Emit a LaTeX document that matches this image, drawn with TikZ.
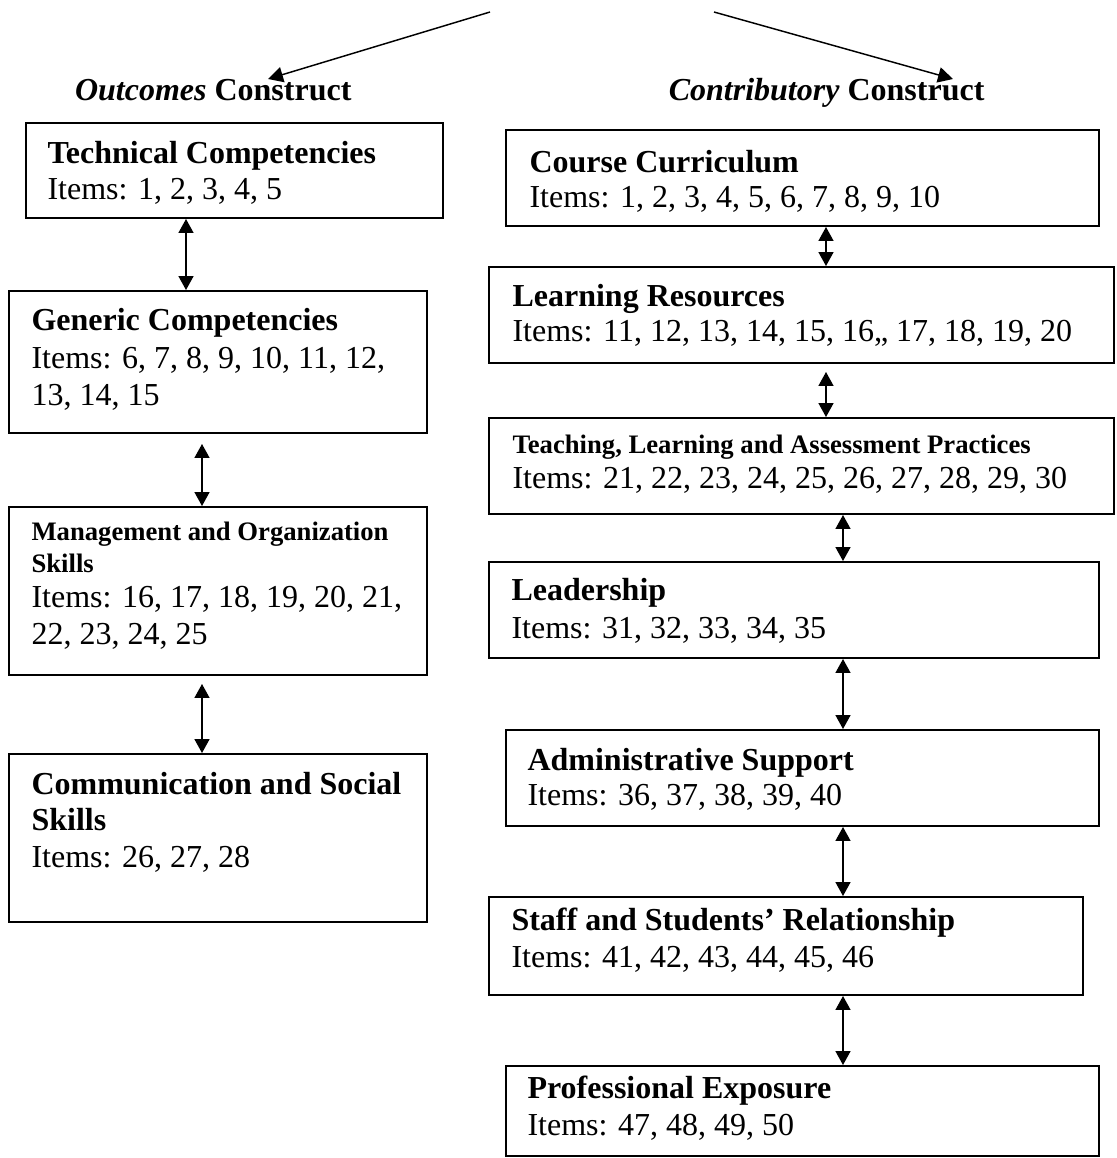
\documentclass[tikz,border=0pt]{standalone}
\usepackage{fontspec}
\setmainfont{Liberation Serif}
\usetikzlibrary{arrows.meta,fit}

\begin{document}
\begin{tikzpicture}[x=0.375pt, y=-0.375pt,
  box/.style={draw, line width=0.75pt, inner sep=0pt, rectangle},
  ln/.style={anchor=base west, inner sep=0pt},
  itm/.style={ln, font=\fontsize{12}{14}\selectfont},
  hd/.style={ln, font=\fontsize{12}{14}\selectfont\bfseries},
  hds/.style={ln, font=\fontsize{10}{12}\selectfont\bfseries},
  ttl/.style={inner sep=0pt, font=\fontsize{12}{14}\selectfont\bfseries},
  link/.style={{Triangle[length=5.2pt, width=5.6pt]}-{Triangle[length=5.2pt, width=5.6pt]}, line width=0.5pt},
  split/.style={-{Triangle[length=5.6pt, width=5.8pt]}, line width=0.55pt}]

\useasboundingbox (0,0) rectangle (1116,1158);

% ---- headings and the two branching arrows ----
\node[ttl, anchor=base east] (outc) at (352,100) {\textit{Outcomes} Construct};
\node[ttl, anchor=base east] (contr) at (985,100) {\textit{Contributory} Construct};
\coordinate (splitL) at (490,12);
\coordinate (tipL) at (268,79);
\coordinate (splitR) at (714,12);
\coordinate (tipR) at (953,79);
\draw[split] (splitL) -- (tipL);
\draw[split] (splitR) -- (tipR);

% ---- Outcomes construct: boxes ----
\node[box, fit={(26,123) (443,218)}] (tc) {};
\node[box, fit={(9,291) (427,433)}] (gc) {};
\node[box, fit={(9,507) (427,675)}] (mo) {};
\node[box, fit={(9,754) (427,922)}] (cs) {};

\node[hd]  (tc-h) at (47,163) {Technical Competencies};
\node[itm] (tc-i) at (47,199) {Items: 1, 2, 3, 4, 5};

\node[hd]  (gc-h)  at (31,330) {Generic Competencies};
\node[itm] (gc-i1) at (31,368) {Items: 6, 7, 8, 9, 10, 11, 12,};
\node[itm] (gc-i2) at (31,405) {13, 14, 15};

\node[hds] (mo-h1) at (31,540) {Management and Organization};
\node[hds] (mo-h2) at (31,572) {Skills};
\node[itm] (mo-i1) at (31,607) {Items: 16, 17, 18, 19, 20, 21,};
\node[itm] (mo-i2) at (31,644) {22, 23, 24, 25};

\node[hd]  (cs-h1) at (31,794) {Communication and Social};
\node[hd]  (cs-h2) at (31,830) {Skills};
\node[itm] (cs-i)  at (31,867) {Items: 26, 27, 28};

% ---- Contributory construct: boxes ----
\node[box, fit={(506,130) (1099,226)}] (cc) {};
\node[box, fit={(489,267) (1114,363)}] (lr) {};
\node[box, fit={(489,418) (1114,514)}] (tl) {};
\node[box, fit={(489,562) (1099,658)}] (ld) {};
\node[box, fit={(506,730) (1099,826)}] (as) {};
\node[box, fit={(489,897) (1083,995)}] (ss) {};
\node[box, fit={(506,1066) (1099,1156)}] (pe) {};

\node[hd]  (cc-h) at (529,172) {Course Curriculum};
\node[itm] (cc-i) at (529,207) {Items: 1, 2, 3, 4, 5, 6, 7, 8, 9, 10};

\node[hd]  (lr-h) at (512,306) {Learning Resources};
\node[itm] (lr-i) at (512,341) {Items: 11, 12, 13, 14, 15, 16,, 17, 18, 19, 20};

\node[hds] (tl-h) at (512,453) {Teaching, Learning and Assessment Practices};
\node[itm] (tl-i) at (512,488) {Items: 21, 22, 23, 24, 25, 26, 27, 28, 29, 30};

\node[hd]  (ld-h) at (511,600) {Leadership};
\node[itm] (ld-i) at (511,638) {Items: 31, 32, 33, 34, 35};

\node[hd]  (as-h) at (527,770) {Administrative Support};
\node[itm] (as-i) at (527,805) {Items: 36, 37, 38, 39, 40};

\node[hd]  (ss-h) at (511,930) {Staff and Students’ Relationship};
\node[itm] (ss-i) at (511,967) {Items: 41, 42, 43, 44, 45, 46};

\node[hd]  (pe-h) at (527,1098) {Professional Exposure};
\node[itm] (pe-i) at (527,1135) {Items: 47, 48, 49, 50};

% ---- two-way links ----
\coordinate (xa) at (186,0);
\coordinate (xb) at (202,0);
\coordinate (xc) at (826,0);
\coordinate (xd) at (843,0);

\draw[link] (tc.south -| xa) -- (gc.north -| xa);
\draw[link, shorten <=3.75pt] (gc.south -| xb) -- (mo.north -| xb);
\draw[link, shorten <=3pt] (mo.south -| xb) -- (cs.north -| xb);

\draw[link] (cc.south -| xc) -- (lr.north -| xc);
\draw[link, shorten <=3pt] (lr.south -| xc) -- (tl.north -| xc);
\draw[link] (tl.south -| xd) -- (ld.north -| xd);
\draw[link] (ld.south -| xd) -- (as.north -| xd);
\draw[link] (as.south -| xd) -- (ss.north -| xd);
\draw[link] (ss.south -| xd) -- (pe.north -| xd);
\end{tikzpicture}
\end{document}
